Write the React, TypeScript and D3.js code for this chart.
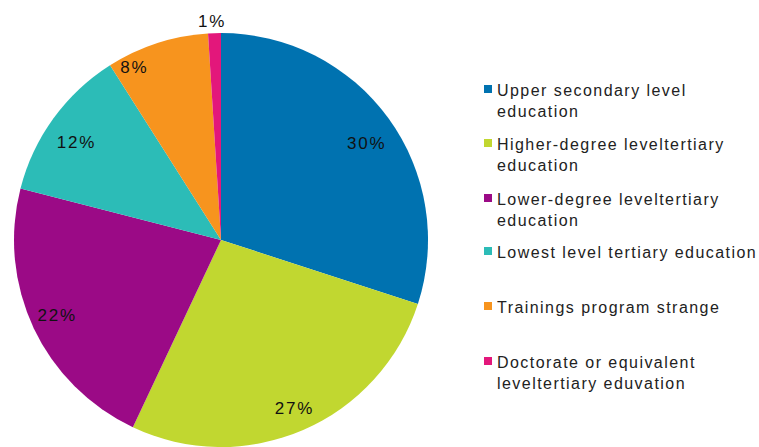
import React from "react";
import * as d3 from "d3";

const categories = [
  "Upper secondary level education",
  "Higher-degree leveltertiary education",
  "Lower-degree leveltertiary education",
  "Lowest level tertiary education",
  "Trainings program strange",
  "Doctorate or equivalent leveltertiary eduvation",
];
const legendLines = [
  ["Upper secondary level", "education"],
  ["Higher-degree leveltertiary", "education"],
  ["Lower-degree leveltertiary", "education"],
  ["Lowest level tertiary education"],
  ["Trainings program strange"],
  ["Doctorate or equivalent", "leveltertiary eduvation"],
];
const shares = [30, 27, 22, 12, 8, 1];
const colors = ["#0072b0", "#c1d730", "#9b0a86", "#2cbcb7", "#f7941e", "#e3177b"];

// Layout constants
const W = 759;
const H = 447;
const cx = 221;
const cy = 240;
const R = 207;
const legendBaselines = [96, 150, 205, 258, 313, 368];
// small per-label offsets so labels avoid crowding near slice edges
const labelNudge: [number, number][] = [
  [0, 9],
  [2, 3],
  [-1, -1],
  [1, 8],
  [-31, -1],
  [-2, 3],
];

export default function App() {
  const pie = d3.pie<number>().sort(null).value((d) => d)(shares);
  const arc = d3.arc<d3.PieArcDatum<number>>().innerRadius(0).outerRadius(R);
  const labelArc = (r: number) => d3.arc<d3.PieArcDatum<number>>().innerRadius(r).outerRadius(r);

  return (
    <svg
      width={W}
      height={H}
      style={{ position: "absolute", left: 0, top: 0, background: "#fff" }}
      fontFamily="Liberation Sans, Arial, sans-serif"
    >
      <g transform={`translate(${cx},${cy})`}>
        {pie.map((p, i) => (
          <path key={categories[i]} d={arc(p) || ""} fill={colors[i]} />
        ))}
        {pie.map((p, i) => {
          const r = shares[i] < 3 ? 222 : 180;
          const [x, y] = labelArc(r).centroid(p);
          return (
            <text
              key={"l" + i}
              x={x + labelNudge[i][0]}
              y={y + labelNudge[i][1]}
              textAnchor="middle"
              dominantBaseline="central"
              fontSize={17}
              letterSpacing={1.8}
              fill="#111"
            >
              {shares[i]}%
            </text>
          );
        })}
      </g>
      <g>
        {legendLines.map((lines, i) => (
          <g key={"lg" + i}>
            <rect x={484} y={legendBaselines[i] - 11} width={8} height={8} fill={colors[i]} />
            {lines.map((t, j) => (
              <text
                key={j}
                x={497}
                y={legendBaselines[i] + j * 21}
                fontSize={16}
                letterSpacing={1.45}
                fill="#222"
              >
                {t}
              </text>
            ))}
          </g>
        ))}
      </g>
    </svg>
  );
}
